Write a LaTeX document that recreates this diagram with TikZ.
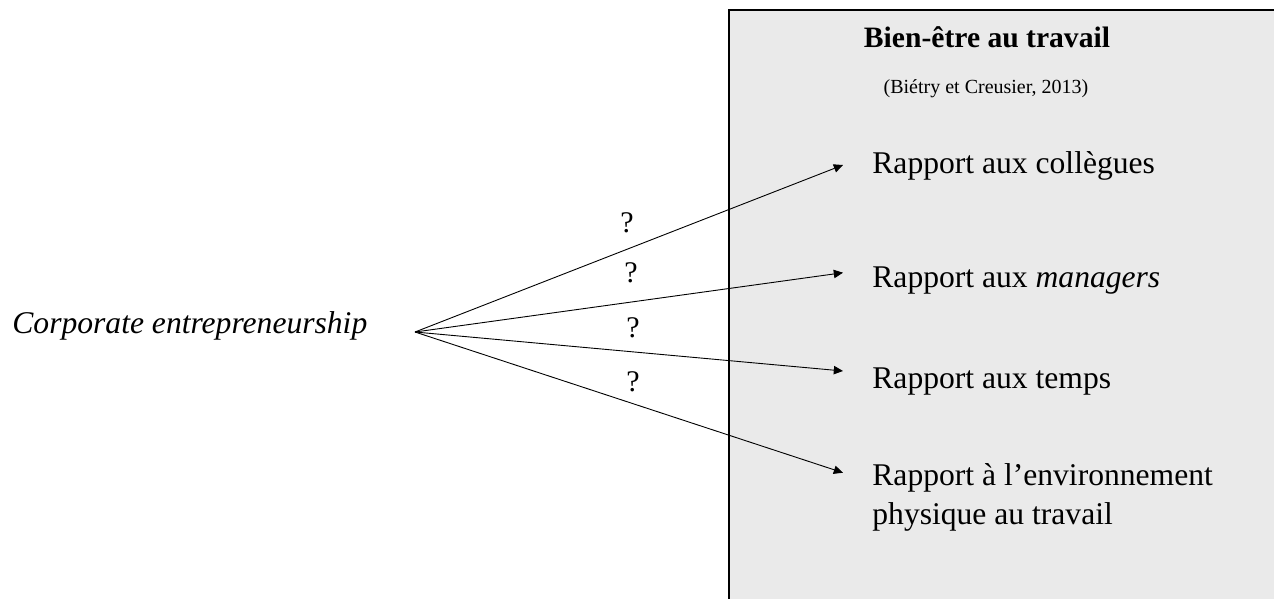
\documentclass[tikz,border=0pt]{standalone}
\usepackage{fontspec}
\setmainfont{Liberation Serif}
\usepackage{tikz}
\usetikzlibrary{arrows.meta}
\definecolor{panel}{HTML}{EAEAEA}
\definecolor{ink}{HTML}{000000}
\tikzset{
  frame/.style={draw=ink, fill=panel, line width=0.8pt},
  link/.style={draw=ink, line width=0.45pt, -{Triangle[length=4.6pt,width=4.2pt]}},
  item/.style={text=ink, font=\fontsize{15.8}{19}\selectfont, anchor=base west, inner sep=0pt},
  qmark/.style={text=ink, font=\fontsize{15}{18}\selectfont, inner sep=0pt},
  head/.style={text=ink, font=\fontsize{14.8}{17}\selectfont\bfseries, anchor=base, inner sep=0pt},
  cite/.style={text=ink, font=\fontsize{10}{12}\selectfont, anchor=base, inner sep=0pt},
}

\begin{document}
\begin{tikzpicture}[x=0.5pt,y=-0.5pt]
  \useasboundingbox (0,0) rectangle (1274,599);
  \clip (0,0) rectangle (1274,599);
  % panel runs off the right and bottom edges
  \draw[frame] (729,10) rectangle (1290,620);
  \node[head] (title) at (987,48) {Bien-être au travail};
  \node[cite] (ref) at (986,94) {(Biétry et Creusier, 2013)};

  \node[item] (ce) at (12,333) {\textit{Corporate entrepreneurship}};
  \node[item] (r1) at (872,173) {Rapport aux collègues};
  \node[item] (r2) at (872,287) {Rapport aux \textit{managers}};
  \node[item] (r3) at (872,388) {Rapport aux temps};
  \node[item] (r4) at (872,485) {Rapport à l’environnement};
  \node[item] (r4b) at (872,524) {physique au travail};

  \coordinate (src) at (415,332);
  \coordinate (t1) at (843,165);
  \coordinate (t2) at (843,272.7);
  \coordinate (t3) at (843,371);
  \coordinate (t4) at (843,472.7);
  \foreach \t in {t1,t2,t3,t4}
    \draw[link] (src) -- (\t);

  \node[qmark] (q1) at (627,223) {?};
  \node[qmark] (q2) at (631,273) {?};
  \node[qmark] (q3) at (633,328) {?};
  \node[qmark] (q4) at (633,382) {?};
\end{tikzpicture}
\end{document}
